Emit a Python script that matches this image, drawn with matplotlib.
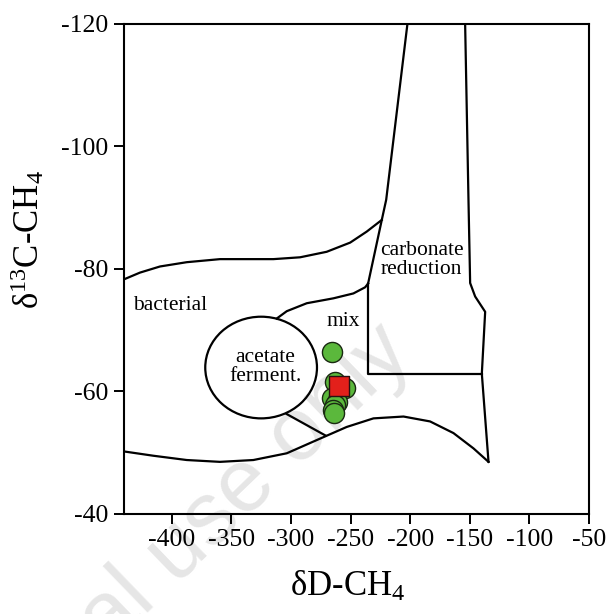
import matplotlib
matplotlib.use("Agg")
import matplotlib.pyplot as plt
from matplotlib.patches import Ellipse

plt.rcParams['font.family'] = ['Liberation Serif', 'DejaVu Serif']
plt.rcParams['mathtext.fontset'] = 'custom'
plt.rcParams['mathtext.rm'] = 'Liberation Serif'
plt.rcParams['mathtext.it'] = 'Liberation Serif:italic'
plt.rcParams['axes.unicode_minus'] = False

# field boundaries (dD, d13C)
bact_top_x = [-440, -426.6, -409.8, -387.4, -359.5, -331.5, -314.7, -292.3,
              -270, -250.3, -236.4, -223.8]
bact_top_y = [-78.3, -79.4, -80.4, -81.1, -81.6, -81.6, -81.6, -81.9,
              -82.8, -84.3, -86.1, -88.0]

thermo_left_x = [-202.3, -220.1, -223.8, -235.3]
thermo_left_y = [-120, -91.3, -88.0, -77.6]

carb_box_x = [-235.3, -235.3, -139.8]
carb_box_y = [-77.6, -62.9, -62.9]

right_x = [-153.9, -151.1, -149.7, -145.5, -137.1, -139.9, -134.3]
right_y = [-120, -91.3, -77.7, -75.5, -73.0, -62.9, -48.5]

lower_x = [-440, -415.4, -387.4, -359.5, -331.5, -303.5, -275.5, -253.2,
           -230.8, -205.6, -183.3, -163.7, -146.9, -134.3]
lower_y = [-50.2, -49.5, -48.8, -48.5, -48.8, -49.9, -52.3, -54.2,
           -55.6, -55.9, -55.1, -53.2, -50.7, -48.5]

mix_top_x = [-311.9, -303.5, -286.7, -264.4, -247.6, -237.8, -235.3]
mix_top_y = [-71.9, -73.1, -74.4, -75.2, -76.0, -77.0, -77.6]

mix_bot_x = [-303.5, -271]
mix_bot_y = [-56.3, -52.8]

# acetate fermentation ellipse
ace_center = (-325, -63.9)
ace_width = 93.7
ace_height = 16.6

# samples
green_x = [-265.2, -263.0, -254.6, -265.8, -261.5, -263.0, -264.4, -263.8]
green_y = [-66.5, -61.6, -60.5, -58.9, -58.3, -57.8, -57.0, -56.4]
red_x = [-259.4]
red_y = [-60.9]

fig = plt.figure(figsize=(6.09, 6.14), dpi=100)

# faint watermark behind the plot
fig.text(0.68, 0.42, 'For personal use only', fontsize=64, color='#e6e6e6',
         family='Liberation Sans', rotation=44, rotation_mode='anchor',
         ha='right', va='baseline', zorder=-1)

ax = fig.add_axes([0.2036, 0.163, 0.7636, 0.798])
ax.set_facecolor('none')

lw = 1.6
for xs, ys in [(bact_top_x, bact_top_y), (thermo_left_x, thermo_left_y),
               (carb_box_x, carb_box_y), (right_x, right_y),
               (lower_x, lower_y), (mix_top_x, mix_top_y),
               (mix_bot_x, mix_bot_y)]:
    ax.plot(xs, ys, color='black', lw=lw, solid_joinstyle='round', zorder=2)

ax.add_patch(Ellipse(ace_center, ace_width, ace_height, fill=False,
                     edgecolor='black', lw=lw, zorder=2))

ax.scatter(green_x, green_y, s=210, color='#5bb83c', edgecolor='#1a2a12',
           linewidth=1.0, zorder=3)
ax.scatter(red_x, red_y, s=190, marker='s', color='#e3201b',
           edgecolor='#2a1010', linewidth=1.0, zorder=4)

fs = 15.5
ax.text(-401, -74.1, 'bacterial', fontsize=fs, ha='center', va='center')
ax.text(-190.5, -81.5, 'carbonate\nreduction', fontsize=fs, ha='center',
        va='center', linespacing=1.0)
ax.text(-256, -71.4, 'mix', fontsize=fs, ha='center', va='center')
ax.text(-321.5, -64.0, 'acetate\nferment.', fontsize=fs, ha='center',
        va='center', linespacing=1.0)

ax.set_xlim(-440, -50)
ax.set_ylim(-40, -120)
ax.set_xticks([-400, -350, -300, -250, -200, -150, -100, -50])
ax.set_yticks([-120, -100, -80, -60, -40])
ax.tick_params(direction='out', length=7, width=1.4, labelsize=18.5, pad=4)
for s in ['left', 'bottom', 'right', 'top']:
    ax.spines[s].set_linewidth(1.5)

ax.set_xlabel('δD-CH$_4$', fontsize=25)
ax.set_ylabel('δ$^{13}$C-CH$_4$', fontsize=25)
ax.xaxis.set_label_coords(0.48, -0.115)
ax.yaxis.set_label_coords(-0.165, 0.56)

fig.savefig('out.png', dpi=100)
